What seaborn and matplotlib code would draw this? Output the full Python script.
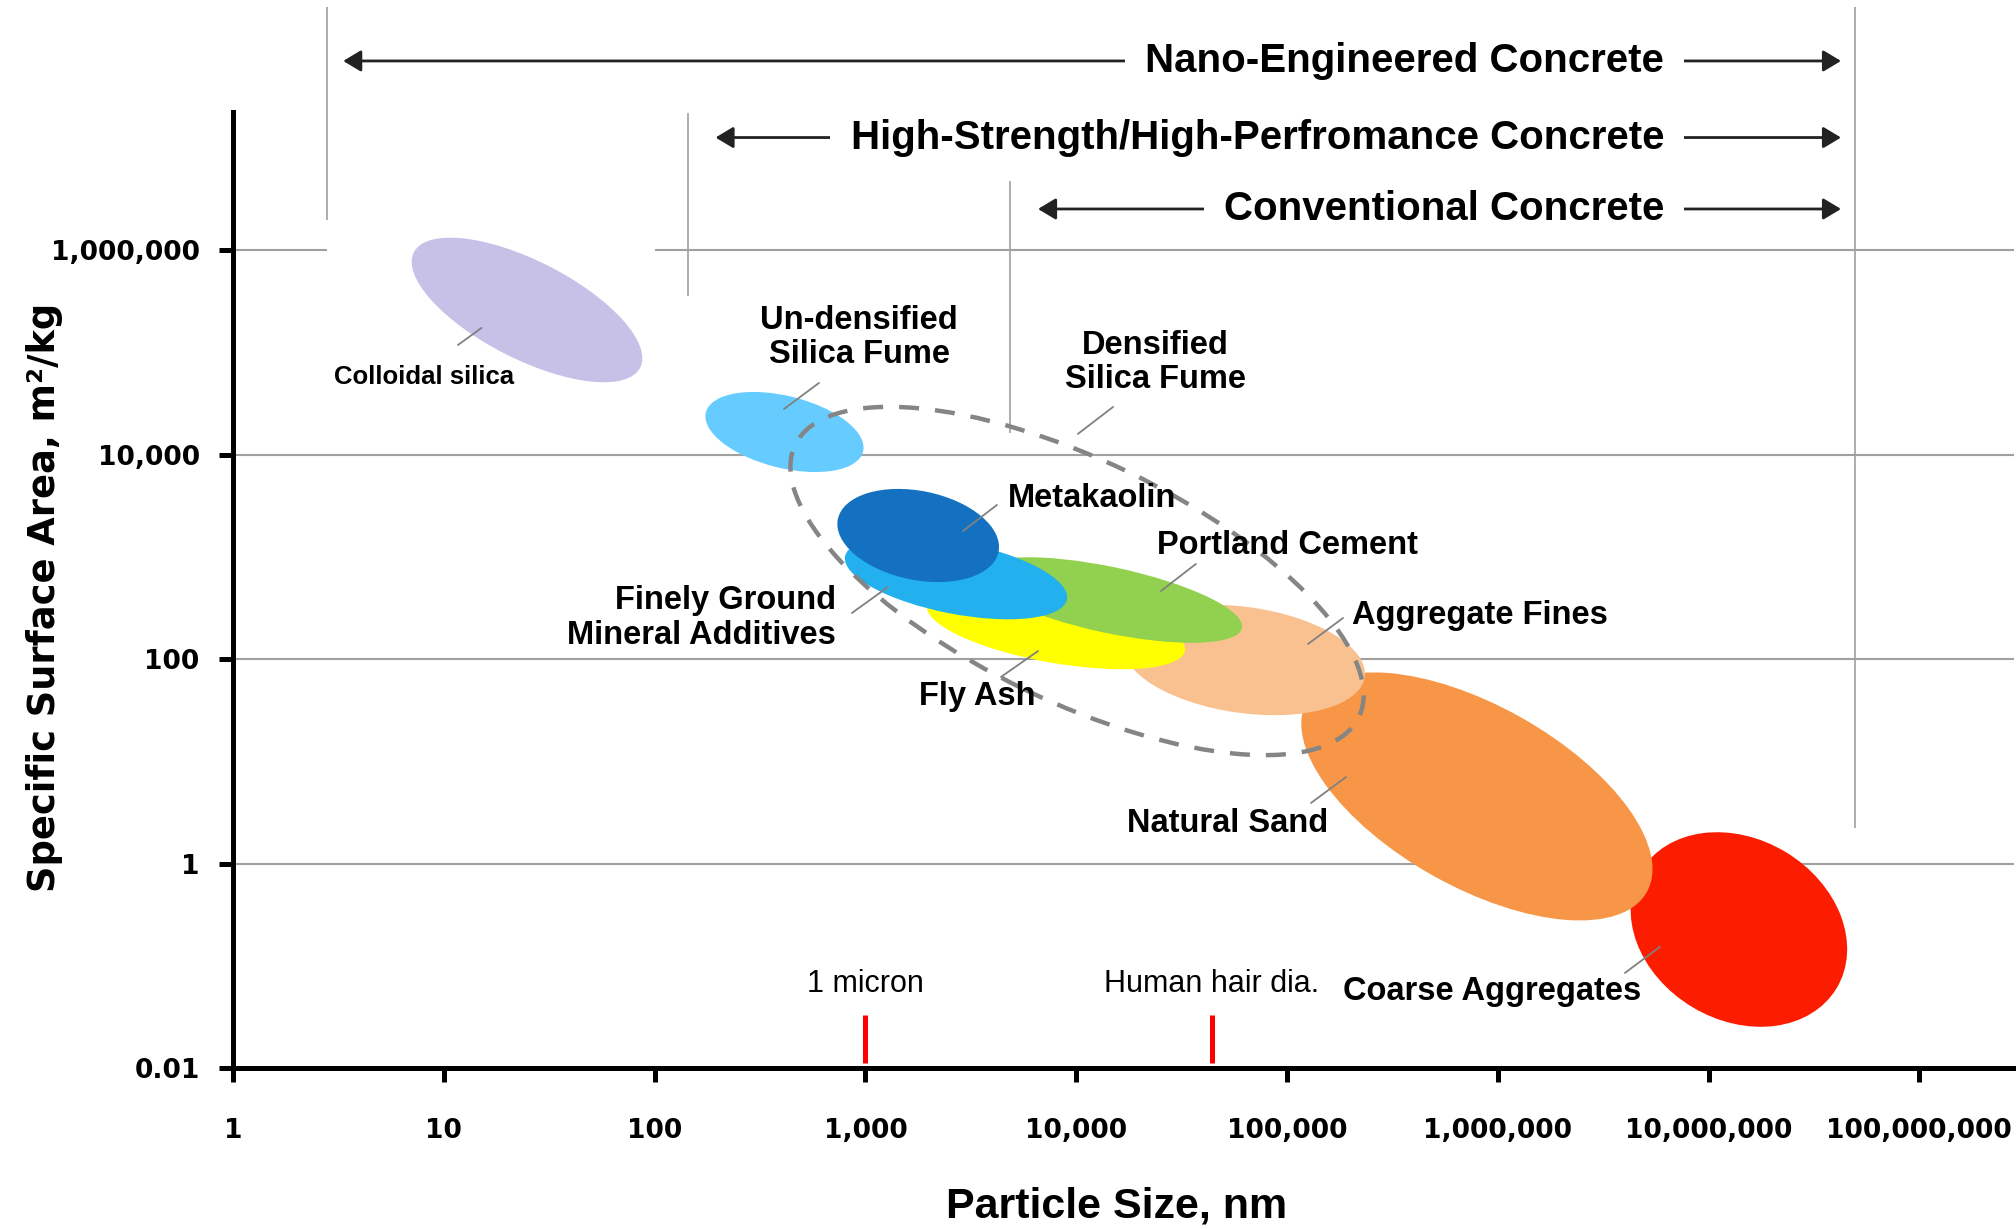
import numpy as np
import matplotlib.pyplot as plt
import matplotlib.transforms as mtransforms
from matplotlib.patches import Ellipse
from matplotlib.ticker import NullLocator
import seaborn as sns

# ==========================================================================
# Data (particle size in nm, surface area in m2/kg)
# ==========================================================================
x_ticks = [1, 10, 100, 1e3, 1e4, 1e5, 1e6, 1e7, 1e8]
x_tick_labels = ['1', '10', '100', '1,000', '10,000', '100,000',
                 '1,000,000', '10,000,000', '100,000,000']
y_ticks = [0.01, 1, 100, 1e4, 1e6]
y_tick_labels = ['0.01', '1', '100', '10,000', '1,000,000']

# material regions (drawn back to front)
materials = ['Coarse Aggregates', 'Natural Sand', 'Aggregate Fines', 'Fly Ash',
             'Portland Cement', 'Finely Ground Mineral Additives', 'Metakaolin',
             'Un-densified Silica Fume', 'Colloidal silica']
center_size = [1.393e7, 7.96e5, 6.25e4, 8.02e3, 1.445e4, 2.69e3, 1.78e3, 413, 24.8]
center_area = [0.2265, 4.54, 98.2, 202, 379, 624, 1622, 16700, 261000]
region_len = [228, 390, 244, 262, 270, 226, 164, 162, 254]   # px along main axis
region_wid = [181, 181, 106, 70, 66, 72, 89, 72, 98]         # px across
region_tilt = [-31, -29.4, -8, -10, -12, -11, -11.5, -14, -27]
region_colors = ['#FC1C00', '#F79646', '#F9C190', '#FFFF00', '#92D050',
                 '#22B0EE', '#1471C1', '#66CCFF', '#C7C0E7']

# densified silica fume (dashed outline)
dsf_size, dsf_area = 1.009e4, 582
dsf_len, dsf_wid, dsf_tilt = 626, 241, -25.8

# labels and leader lines
label_text = ['Colloidal silica', 'Un-densified\nSilica Fume', 'Densified\nSilica Fume',
              'Metakaolin', 'Portland Cement', 'Aggregate Fines',
              'Finely Ground\nMineral Additives', 'Fly Ash', 'Natural Sand',
              'Coarse Aggregates']
label_x = [8.05, 933, 23660, 4742, 24150, 203200, 726, 3381, 52480, 937600]
label_y = [57680, 139000, 80000, 3698, 1282, 270, 253, 42.7, 2.49, 0.0555]
label_ha = ['center', 'center', 'center', 'left', 'left', 'left', 'right',
            'center', 'center', 'center']
leader_x0 = [11.67, 602.6, 14960, 4207, 36980, 184500, 863, 4395, 130000, 4.01e6]
leader_y0 = [118600, 50470, 29380, 3228, 855, 252.9, 283, 67, 3.92, 0.0851]
leader_x1 = [15.1, 411, 10190, 2904, 25230, 125900, 1279, 6592, 190500, 5.87e6]
leader_y1 = [174200, 28050, 16000, 1795, 464.5, 140.9, 508, 120, 7.03, 0.153]

# reference sizes
ref_names = ['1 micron', 'Human hair dia.']
ref_size = [1000, 44000]

# concrete classes across the top
class_names = ['Nano-Engineered Concrete', 'High-Strength/High-Perfromance Concrete',
               'Conventional Concrete']
class_from = [3.33, 194.5, 6590]
class_to = [4.25e7, 4.25e7, 4.25e7]
class_level = [7.13e7, 1.27e7, 2.54e6]
class_text_end = 6.15e6

# boundary lines (x, y from, y to)
bound_x = [2.79, 144, 4850, 4.97e7]
bound_y0 = [1.98e6, 3.58e5, 1.63e4, 2.23]
bound_y1 = [2.41e8, 2.21e7, 4.78e6, 2.41e8]

# ==========================================================================
sns.set_theme(style='white')
plt.rcParams['font.family'] = ['Liberation Sans', 'DejaVu Sans']
plt.rcParams['text.color'] = 'black'

fig = plt.figure(figsize=(20.16, 12.29), dpi=100)
ax = fig.add_axes([0.1156, 0.1310, 0.8834, 0.7779])
ax.set_xscale('log')
ax.set_yscale('log')
ax.set_xlim(1, 10 ** 8.449)
ax.set_ylim(0.01, 10 ** 7.354)
ax.xaxis.set_minor_locator(NullLocator())
ax.yaxis.set_minor_locator(NullLocator())

# grid lines (the top one has a gap)
grid_c = '#a0a0a0'
xmax = 10 ** 8.449
ax.hlines([1, 100, 1e4], 1, xmax, color=grid_c, lw=1.5, zorder=1)
ax.hlines([1e6, 1e6], [1, 100.5], [2.79, xmax], color=grid_c, lw=1.5, zorder=1)
ax.vlines(bound_x, bound_y0, bound_y1, color=grid_c, lw=1.2, zorder=1, clip_on=False)

# material regions
for i in range(len(materials)):
    trans = fig.dpi_scale_trans + mtransforms.ScaledTranslation(
        center_size[i], center_area[i], ax.transData)
    e = Ellipse((0, 0), region_len[i] / 100, region_wid[i] / 100, angle=region_tilt[i],
                transform=trans, facecolor=region_colors[i], edgecolor='none', zorder=2 + i)
    ax.add_patch(e)

trans = fig.dpi_scale_trans + mtransforms.ScaledTranslation(dsf_size, dsf_area, ax.transData)
ax.add_patch(Ellipse((0, 0), dsf_len / 100, dsf_wid / 100, angle=dsf_tilt, transform=trans,
                     facecolor='none', edgecolor='#858585', lw=3.2,
                     linestyle=(0, (4.5, 3.6)), zorder=15))

# labels and leaders
for i in range(len(label_text)):
    fs = 18.5 if i == 0 else 23.5
    ax.text(label_x[i], label_y[i], label_text[i], ha=label_ha[i], va='center',
            multialignment=label_ha[i], fontsize=fs, fontweight='bold', color='black',
            linespacing=1.13, zorder=20)
    ax.plot([leader_x0[i], leader_x1[i]], [leader_y0[i], leader_y1[i]],
            color='#808080', lw=1.3, zorder=18)

# reference markers
ax.vlines(ref_size, 0.0112, 0.033, color='red', lw=3.6, zorder=5)
for name, xs in zip(ref_names, ref_size):
    ax.text(xs, 0.067, name, ha='center', va='center', fontsize=22, color='black')

# concrete classes
for i in range(len(class_names)):
    ax.annotate('', xy=(class_from[i], class_level[i]), xytext=(class_to[i], class_level[i]),
                arrowprops=dict(arrowstyle='<|-|>,head_length=0.4,head_width=0.24',
                                mutation_scale=27, lw=2.0, color='#222222',
                                shrinkA=0, shrinkB=0),
                annotation_clip=False)
    ax.text(class_text_end, class_level[i], class_names[i], ha='right', va='center',
            fontsize=29, fontweight='bold', color='black', zorder=20,
            bbox=dict(boxstyle='square,pad=0.5', facecolor='white', edgecolor='none'))

# axes
sns.despine(ax=ax)
for side in ['left', 'bottom']:
    ax.spines[side].set_linewidth(3.6)
    ax.spines[side].set_color('black')
    ax.spines[side].set_zorder(30)
ax.set_xticks(x_ticks)
ax.set_xticklabels(x_tick_labels)
ax.set_yticks(y_ticks)
ax.set_yticklabels(y_tick_labels)
ax.tick_params(axis='both', which='major', bottom=True, left=True, direction='out',
               length=10, width=3.6, color='black', labelsize=19, labelcolor='black')
ax.tick_params(axis='x', pad=26)
ax.tick_params(axis='y', pad=14)
for lab in ax.get_xticklabels() + ax.get_yticklabels():
    lab.set_fontfamily('DejaVu Sans')
    lab.set_fontweight('bold')
ax.grid(False)

fig.text(45 / 2016, 1 - 597.5 / 1229, 'Specific Surface Area, m\u00b2/kg', rotation=90,
         ha='center', va='center', fontsize=26.5, fontweight='bold', family='DejaVu Sans',
         color='black')
fig.text(1117 / 2016, 1 - 1206 / 1229, 'Particle Size, nm', ha='center', va='center',
         fontsize=31, fontweight='bold', color='black')

fig.savefig('out.png', dpi=100)
